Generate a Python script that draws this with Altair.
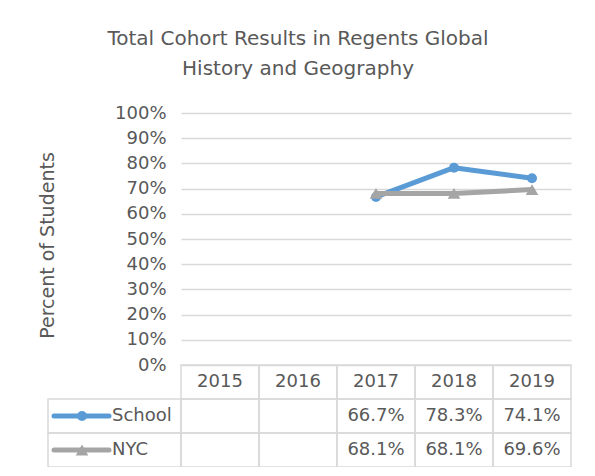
import altair as alt
import pandas as pd

years = ["2015", "2016", "2017", "2018", "2019"]
school = [None, None, 66.7, 78.3, 74.1]
nyc = [None, None, 68.1, 68.1, 69.6]
series = ["School", "NYC"]
colors = ["#5B9BD5", "#A5A5A5"]
shapes = ["circle", "triangle-up"]
marker_sizes = [100, 160]
y_ticks = list(range(0, 101, 10))
title_lines = ["Total Cohort Results in Regents Global", "History and Geography"]
rows = ["header", "School", "NYC"]

FONT = "DejaVu Sans"
TXT = "#595959"
GRID = "#D9D9D9"

recs = []
for s, vals in zip(series, [school, nyc]):
    for yr, v in zip(years, vals):
        recs.append({"series": s, "year": yr, "value": v,
                     "label": (f"{v:.1f}%" if v is not None else "")})
df = pd.DataFrame(recs)
valid = df.dropna(subset=["value"])

cells = [{"year": yr, "row": "header", "text": yr} for yr in years]
cells += [{"year": r["year"], "row": r["series"], "text": r["label"]} for r in recs]
cells = pd.DataFrame(cells)
legend_df = pd.DataFrame({"row": series, "series": series})

# ---- line chart part ----
xline = alt.X("year:O", scale=alt.Scale(type="point", domain=years, padding=0.5), axis=None)
yline = alt.Y(
    "value:Q",
    scale=alt.Scale(domain=[0, 100]),
    axis=alt.Axis(values=y_ticks, labelExpr="datum.value + '%'", title="Percent of Students",
                  grid=True, gridColor=GRID, gridWidth=1.3, domain=False, ticks=False,
                  labelPadding=15, labelFontSize=18, labelColor=TXT, labelFont=FONT,
                  titleFontSize=19, titleColor=TXT, titleFont=FONT, titleFontWeight="normal",
                  titleX=-134, titleY=132, titleBaseline="middle"),
)

def line_layer(name, color, shape, size):
    d = valid[valid.series == name]
    base = alt.Chart(d).encode(x=xline, y=yline)
    ln = base.mark_line(color=color, strokeWidth=5, strokeCap="round", strokeJoin="round")
    pt = base.mark_point(color=color, filled=True, opacity=1, shape=shape, size=size)
    return [ln, pt]

lines = alt.layer(*line_layer("School", colors[0], shapes[0], marker_sizes[0]),
                  *line_layer("NYC", colors[1], shapes[1], marker_sizes[1]))

# ---- data table part ----
xt = alt.X("year:O", scale=alt.Scale(type="band", domain=years, paddingInner=0, paddingOuter=0), axis=None)
yscale = alt.Scale(type="band", domain=rows, range=[252, 354], paddingInner=0, paddingOuter=0)
yt = alt.Y("row:N", scale=yscale, axis=None)
yt_mid = alt.Y("row:N", scale=yscale, axis=None, bandPosition=0.5)
color_enc = alt.Color("series:N", scale=alt.Scale(domain=series, range=colors), legend=None)

grid_cells = alt.Chart(cells).mark_rect(filled=False, stroke=GRID, strokeWidth=1.5).encode(x=xt, y=yt)
cell_text = alt.Chart(cells).mark_text(font=FONT, fontSize=18, color=TXT, baseline="middle").encode(
    x=alt.X("year:O", scale=alt.Scale(type="band", domain=years, paddingInner=0, paddingOuter=0),
            axis=None, bandPosition=0.5),
    y=yt_mid, text="text:N")

label_cells = alt.Chart(legend_df).mark_rect(filled=False, stroke=GRID, strokeWidth=1.5).encode(
    x=alt.value(-133), x2=alt.value(0), y=yt)
legend_rule = alt.Chart(legend_df).mark_rule(strokeWidth=5, strokeCap="round").encode(
    x=alt.value(-127), x2=alt.value(-72), y=yt_mid, color=color_enc)
legend_pt = alt.Chart(legend_df).mark_point(filled=True, opacity=1).encode(
    x=alt.value(-99), y=yt_mid, color=color_enc,
    shape=alt.Shape("series:N", scale=alt.Scale(domain=series, range=shapes), legend=None),
    size=alt.Size("series:N", scale=alt.Scale(domain=series, range=marker_sizes), legend=None))
legend_txt = alt.Chart(legend_df).mark_text(align="left", baseline="middle", font=FONT,
                                            fontSize=18, color=TXT).encode(
    x=alt.value(-69), y=yt_mid, text="series:N")

chart = alt.layer(lines, grid_cells, cell_text, label_cells, legend_rule, legend_pt, legend_txt).resolve_scale(
    x="independent", y="independent"
).properties(
    width=390, height=252,
    title=alt.Title(title_lines, fontSize=20, font=FONT, color=TXT, fontWeight="normal",
                    lineHeight=30, dx=-78, offset=25, anchor="middle"),
    padding={"left": 173, "top": 105, "right": 14, "bottom": 102},
    autosize=alt.AutoSizeParams(type="none"),
).configure(font=FONT).configure_view(stroke="transparent", strokeWidth=0)

chart.save("out.html", embed_options={"renderer": "svg", "actions": False})
